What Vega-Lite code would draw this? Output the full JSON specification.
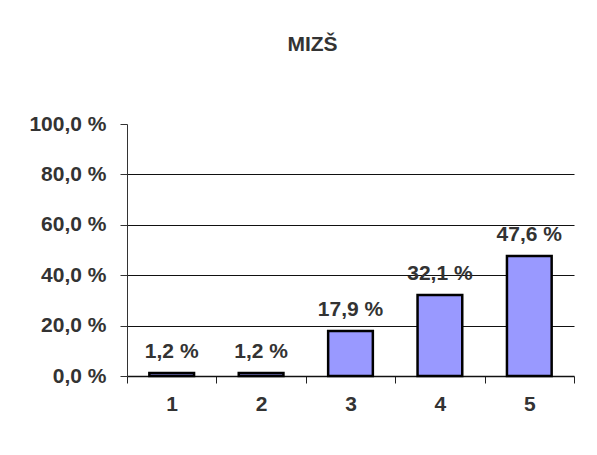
{
  "$schema": "https://vega.github.io/schema/vega-lite/v6.json",
  "autosize": "none",
  "width": 447,
  "height": 252,
  "padding": {"left": 127, "top": 124, "right": 23, "bottom": 79},
  "background": "white",
  "title": {
    "text": "MIZŠ",
    "font": "Liberation Sans",
    "fontSize": 21,
    "fontWeight": "bold",
    "color": "#333333",
    "anchor": "middle",
    "dx": -38,
    "offset": 58
  },
  "config": {
    "view": {"stroke": null},
    "locale": {
      "number": {
        "decimal": ",",
        "thousands": " ",
        "grouping": [3],
        "currency": ["", ""],
        "percent": " %"
      }
    }
  },
  "data": {
    "values": [
      {"grade": "1", "share": 0.012},
      {"grade": "2", "share": 0.012},
      {"grade": "3", "share": 0.179},
      {"grade": "4", "share": 0.321},
      {"grade": "5", "share": 0.476}
    ]
  },
  "encoding": {
    "x": {
      "field": "grade",
      "type": "nominal",
      "sort": null,
      "scale": {"paddingInner": 0, "paddingOuter": 0},
      "axis": {
        "title": null,
        "labelAngle": 0,
        "labelFont": "Liberation Sans",
        "labelFontSize": 21,
        "labelFontWeight": "bold",
        "labelColor": "#333333",
        "labelPadding": 10,
        "tickBand": "extent",
        "tickSize": 7,
        "tickColor": "#222222",
        "domainColor": "#111111",
        "domainWidth": 1.5,
        "grid": false
      }
    },
    "y": {
      "field": "share",
      "type": "quantitative",
      "scale": {"domain": [0, 1], "nice": false},
      "axis": {
        "title": null,
        "values": [0, 0.2, 0.4, 0.6, 0.8, 1],
        "format": ".1%",
        "labelFont": "Liberation Sans",
        "labelFontSize": 21,
        "labelFontWeight": "bold",
        "labelColor": "#333333",
        "labelPadding": 14,
        "tickSize": 7,
        "tickColor": "#333333",
        "domainColor": "#333333",
        "grid": true,
        "gridColor": "#111111",
        "gridWidth": 1,
        "gridOpacity": {"condition": {"test": "datum.value >= 1 || datum.value <= 0", "value": 0}, "value": 1}
      }
    }
  },
  "layer": [
    {
      "mark": {"type": "bar", "width": {"band": 0.5}, "fill": "#9999FF", "stroke": "#000000", "strokeWidth": 2.5}
    },
    {
      "mark": {
        "type": "text",
        "baseline": "alphabetic",
        "dy": -15,
        "font": "Liberation Sans",
        "fontSize": 21,
        "fontWeight": "bold",
        "color": "#333333"
      },
      "encoding": {
        "text": {"field": "share", "type": "quantitative", "format": ".1%"}
      }
    }
  ]
}
